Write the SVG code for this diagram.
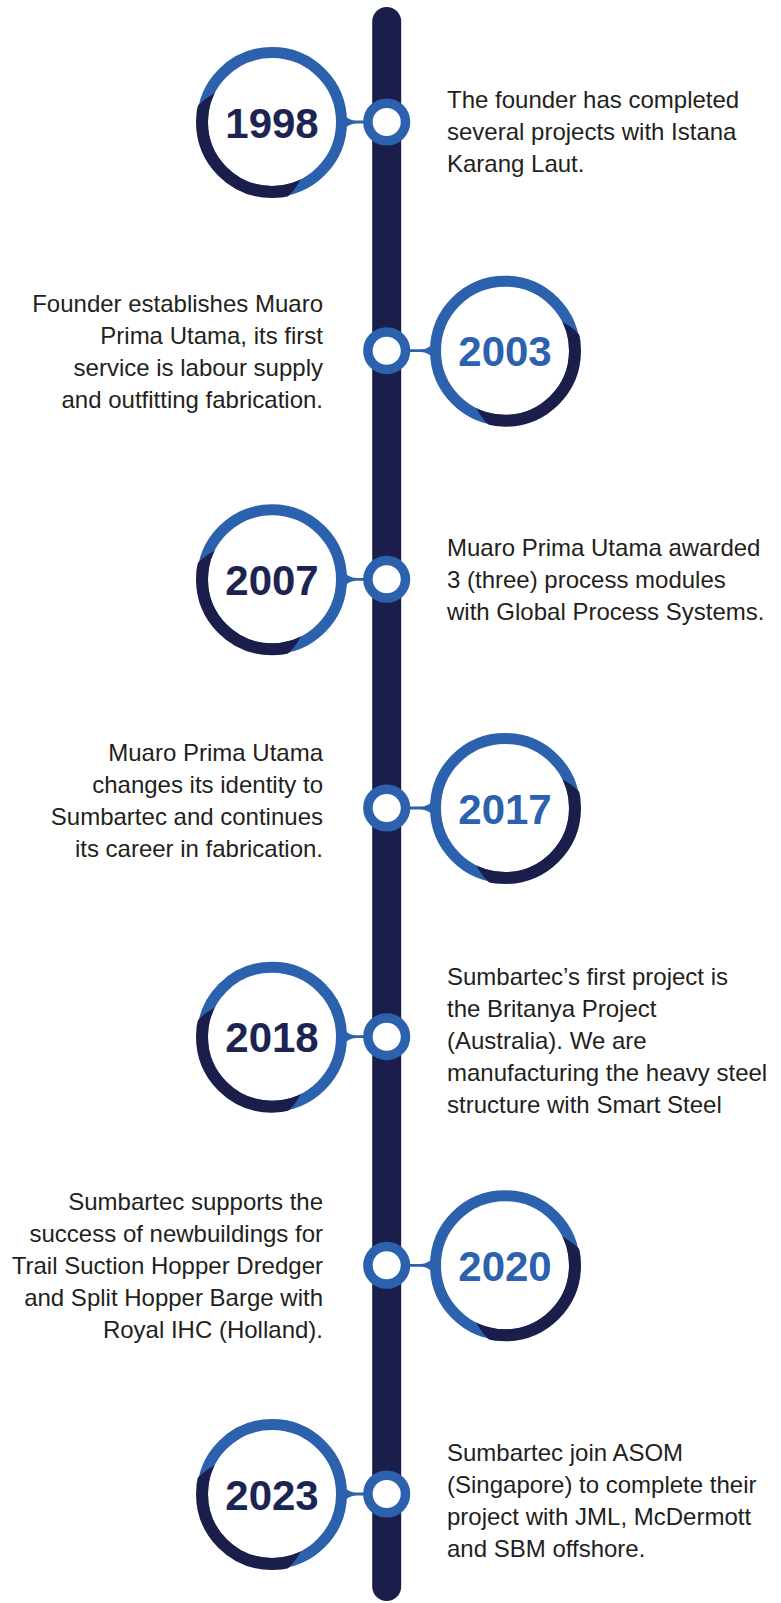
<svg xmlns="http://www.w3.org/2000/svg" width="781" height="1603" viewBox="0 0 781 1603">
  <style>
    .ring { fill: #ffffff; stroke: #2c61ad; stroke-width: 11; }
    .shade { fill: none; stroke: #1b1e4b; stroke-width: 12; }
    .dot { fill: #ffffff; stroke: #2c61ad; stroke-width: 9.5; }
    .conn { fill: #2c61ad; }
    .year { font-family: "Liberation Sans", Arial, sans-serif; font-weight: bold; font-size: 42px; text-anchor: middle; }
    .ydark { fill: #1c2551; }
    .yblue { fill: #2c61ad; }
    .desc { font-family: "Liberation Sans", Arial, sans-serif; font-size: 24px; fill: #231f20; }
    .r { text-anchor: start; }
    .l { text-anchor: end; }
  </style>
  <defs>
    <clipPath id="clipL" clipPathUnits="userSpaceOnUse"><circle cx="-28.3" cy="28.3" r="64"/></clipPath>
    <clipPath id="clipR" clipPathUnits="userSpaceOnUse"><circle cx="28.3" cy="28.3" r="64"/></clipPath>
  </defs>

  <rect width="781" height="1603" fill="#ffffff"/>

  <g id="bar">
    <rect x="372.2" y="7" width="29" height="1594" rx="14.5" fill="#1b1e4b"/>
  </g>

  <g id="connectors">
    <path class="conn" transform="translate(0,122)" d="M343,-8 Q349,-1.4 356,-1.4 L368,-1.4 L368,1.4 L356,1.4 Q349,1.4 343,8 Z"/>
    <path class="conn" transform="translate(0,350.7)" d="M434,-8 Q428,-1.4 421,-1.4 L405,-1.4 L405,1.4 L421,1.4 Q428,1.4 434,8 Z"/>
    <path class="conn" transform="translate(0,579.3)" d="M343,-8 Q349,-1.4 356,-1.4 L368,-1.4 L368,1.4 L356,1.4 Q349,1.4 343,8 Z"/>
    <path class="conn" transform="translate(0,808)" d="M434,-8 Q428,-1.4 421,-1.4 L405,-1.4 L405,1.4 L421,1.4 Q428,1.4 434,8 Z"/>
    <path class="conn" transform="translate(0,1036.7)" d="M343,-8 Q349,-1.4 356,-1.4 L368,-1.4 L368,1.4 L356,1.4 Q349,1.4 343,8 Z"/>
    <path class="conn" transform="translate(0,1265.3)" d="M434,-8 Q428,-1.4 421,-1.4 L405,-1.4 L405,1.4 L421,1.4 Q428,1.4 434,8 Z"/>
    <path class="conn" transform="translate(0,1494)" d="M343,-8 Q349,-1.4 356,-1.4 L368,-1.4 L368,1.4 L356,1.4 Q349,1.4 343,8 Z"/>
  </g>

  <g id="node-1998">
    <g transform="translate(272,122)">
      <circle class="ring" r="69.5"/>
      <circle class="shade" r="70" clip-path="url(#clipL)"/>
      <text class="year ydark" y="15.5">1998</text>
    </g>
    <circle class="dot" cx="386.7" cy="122" r="18.8"/>
    <text class="desc r" x="447" y="108">The founder has completed</text>
    <text class="desc r" x="447" y="140">several projects with Istana</text>
    <text class="desc r" x="447" y="172">Karang Laut.</text>
  </g>

  <g id="node-2003">
    <g transform="translate(505,350.7)">
      <circle class="ring" r="69.5"/>
      <circle class="shade" r="70" clip-path="url(#clipR)"/>
      <text class="year yblue" y="15.5">2003</text>
    </g>
    <circle class="dot" cx="386.7" cy="350.7" r="18.8"/>
    <text class="desc l" x="323" y="312">Founder establishes Muaro</text>
    <text class="desc l" x="323" y="344">Prima Utama, its first</text>
    <text class="desc l" x="323" y="376">service is labour supply</text>
    <text class="desc l" x="323" y="408">and outfitting fabrication.</text>
  </g>

  <g id="node-2007">
    <g transform="translate(272,579.3)">
      <circle class="ring" r="69.5"/>
      <circle class="shade" r="70" clip-path="url(#clipL)"/>
      <text class="year ydark" y="15.5">2007</text>
    </g>
    <circle class="dot" cx="386.7" cy="579.3" r="18.8"/>
    <text class="desc r" x="447" y="556">Muaro Prima Utama awarded</text>
    <text class="desc r" x="447" y="588">3 (three) process modules</text>
    <text class="desc r" x="447" y="620">with Global Process Systems.</text>
  </g>

  <g id="node-2017">
    <g transform="translate(505,808)">
      <circle class="ring" r="69.5"/>
      <circle class="shade" r="70" clip-path="url(#clipR)"/>
      <text class="year yblue" y="15.5">2017</text>
    </g>
    <circle class="dot" cx="386.7" cy="808" r="18.8"/>
    <text class="desc l" x="323" y="761">Muaro Prima Utama</text>
    <text class="desc l" x="323" y="793">changes its identity to</text>
    <text class="desc l" x="323" y="825">Sumbartec and continues</text>
    <text class="desc l" x="323" y="857">its career in fabrication.</text>
  </g>

  <g id="node-2018">
    <g transform="translate(272,1036.7)">
      <circle class="ring" r="69.5"/>
      <circle class="shade" r="70" clip-path="url(#clipL)"/>
      <text class="year ydark" y="15.5">2018</text>
    </g>
    <circle class="dot" cx="386.7" cy="1036.7" r="18.8"/>
    <text class="desc r" x="447" y="985">Sumbartec’s first project is</text>
    <text class="desc r" x="447" y="1017">the Britanya Project</text>
    <text class="desc r" x="447" y="1049">(Australia). We are</text>
    <text class="desc r" x="447" y="1081">manufacturing the heavy steel</text>
    <text class="desc r" x="447" y="1113">structure with Smart Steel</text>
  </g>

  <g id="node-2020">
    <g transform="translate(505,1265.3)">
      <circle class="ring" r="69.5"/>
      <circle class="shade" r="70" clip-path="url(#clipR)"/>
      <text class="year yblue" y="15.5">2020</text>
    </g>
    <circle class="dot" cx="386.7" cy="1265.3" r="18.8"/>
    <text class="desc l" x="323" y="1210">Sumbartec supports the</text>
    <text class="desc l" x="323" y="1242">success of newbuildings for</text>
    <text class="desc l" x="323" y="1274">Trail Suction Hopper Dredger</text>
    <text class="desc l" x="323" y="1306">and Split Hopper Barge with</text>
    <text class="desc l" x="323" y="1338">Royal IHC (Holland).</text>
  </g>

  <g id="node-2023">
    <g transform="translate(272,1494)">
      <circle class="ring" r="69.5"/>
      <circle class="shade" r="70" clip-path="url(#clipL)"/>
      <text class="year ydark" y="15.5">2023</text>
    </g>
    <circle class="dot" cx="386.7" cy="1494" r="18.8"/>
    <text class="desc r" x="447" y="1461">Sumbartec join ASOM</text>
    <text class="desc r" x="447" y="1493">(Singapore) to complete their</text>
    <text class="desc r" x="447" y="1525">project with JML, McDermott</text>
    <text class="desc r" x="447" y="1557">and SBM offshore.</text>
  </g>
</svg>
